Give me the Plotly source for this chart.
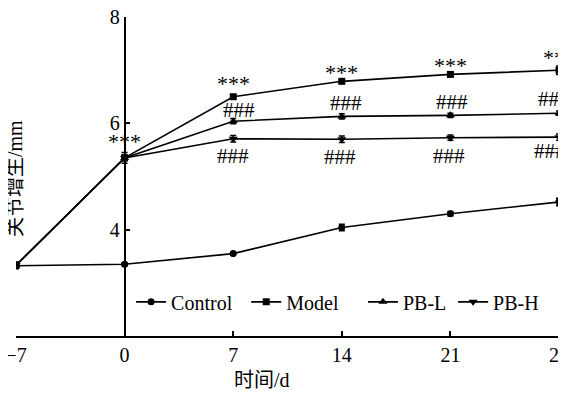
import plotly.graph_objects as go

days = [-7, 0, 7, 14, 21, 28]
tick_text = ["\u22127", "0", "7", "14", "21", "28"]

control = [3.32, 3.35, 3.55, 4.04, 4.30, 4.52]
control_err = [0.05, 0.03, 0.03, 0.06, 0.04, 0.07]
model = [3.33, 5.35, 6.50, 6.79, 6.92, 7.00]
model_err = [0.06, 0.10, 0.03, 0.03, 0.03, 0.08]
pbl = [3.33, 5.35, 6.04, 6.13, 6.15, 6.19]
pbl_err = [0.05, 0.05, 0.05, 0.05, 0.04, 0.04]
pbh = [3.33, 5.35, 5.71, 5.70, 5.73, 5.74]
pbh_err = [0.05, 0.05, 0.06, 0.06, 0.05, 0.06]

# significance labels
star_x = [0, 7, 14, 21, 28]
star_y = [5.66, 6.75, 6.95, 7.08, 7.23]
hash_up_x = [7.4, 14.3, 21.1, 27.7]
hash_up_y = [6.26, 6.39, 6.41, 6.45]
hash_dn_x = [7, 13.9, 20.9, 27.4]
hash_dn_y = [5.38, 5.36, 5.38, 5.48]

FONT = "Liberation Serif, Times New Roman, Noto Sans CJK SC, serif"

series = [
    ("Control", control, control_err, "circle", 7, "legend", 0.212),
    ("Model", model, model_err, "square", 7, "legend2", 0.424),
    ("PB-L", pbl, pbl_err, "triangle-up", 8, "legend3", 0.639),
    ("PB-H", pbh, pbh_err, "triangle-down", 8, "legend4", 0.805),
]

fig = go.Figure()
legends = {}
for name, vals, err, sym, sz, lg, lx in series:
    fig.add_trace(go.Scatter(
        x=days, y=vals, name=name, mode="lines+markers",
        line=dict(color="black", width=1.6),
        marker=dict(symbol=sym, size=sz, color="black"),
        error_y=dict(type="data", array=err, color="black", thickness=1.5, width=3),
        legend=lg,
    ))
    legends[lg] = dict(orientation="h", x=lx, y=0.107, xanchor="left", yanchor="middle",
                       bgcolor="rgba(0,0,0,0)", borderwidth=0,
                       font=dict(family=FONT, size=20, color="black"))

annotations = []
for x, y in zip(star_x, star_y):
    annotations.append(dict(x=x, y=y, xref="x", yref="y", text="***", showarrow=False,
                            font=dict(family=FONT, size=22, color="black")))
for x, y in zip(hash_up_x, hash_up_y):
    annotations.append(dict(x=x, y=y, xref="x", yref="y", text="###", showarrow=False,
                            font=dict(family=FONT, size=21, color="black")))
for x, y in zip(hash_dn_x, hash_dn_y):
    annotations.append(dict(x=x, y=y, xref="x", yref="y", text="###", showarrow=False,
                            font=dict(family=FONT, size=21, color="black")))
annotations.append(dict(x=-0.002, y=0.495, xref="paper", yref="paper", text="关节增生/mm",
                        textangle=-90, showarrow=False, xanchor="center", yanchor="middle",
                        font=dict(family=FONT, size=20, color="black")))
annotations.append(dict(x=0.453, y=-0.138, xref="paper", yref="paper", text="时间/d",
                        showarrow=False, xanchor="center", yanchor="middle",
                        font=dict(family=FONT, size=20, color="black")))

fig.update_layout(
    width=566, height=393,
    margin=dict(l=8, r=15, t=9, b=65, autoexpand=False),
    plot_bgcolor="white", paper_bgcolor="white",
    font=dict(family=FONT, size=20, color="black"),
    showlegend=True,
    xaxis=dict(range=[-7, 28], tickvals=days, ticktext=tick_text,
               showline=True, linecolor="black", linewidth=1.5,
               ticks="inside", ticklen=5, tickwidth=1.5, tickcolor="black",
               showgrid=False, zeroline=False, automargin=False,
               ticklabeloverflow="allow",
               tickfont=dict(family=FONT, size=20, color="black")),
    yaxis=dict(range=[2, 8], tickvals=[4, 6, 8], anchor="free", position=0.2,
               showline=True, linecolor="black", linewidth=1.5,
               ticks="inside", ticklen=5, tickwidth=1.5, tickcolor="black",
               showgrid=False, zeroline=False, automargin=False,
               ticklabeloverflow="allow",
               tickfont=dict(family=FONT, size=20, color="black")),
    annotations=annotations,
    **legends,
)

fig.write_html("out.html")
